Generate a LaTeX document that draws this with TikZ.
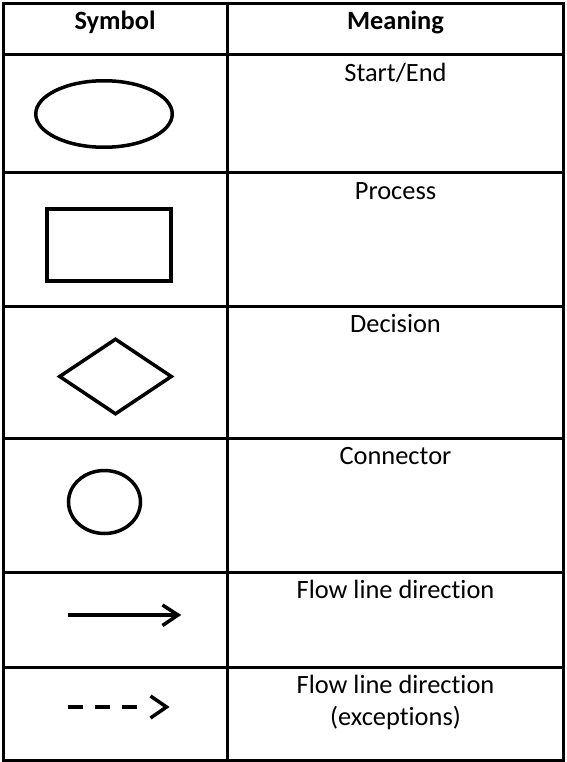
\documentclass[tikz,border=0pt]{standalone}
\usepackage{fontspec}
\setmainfont{Carlito}[Ligatures=NoCommon]
\usetikzlibrary{shapes.geometric}
\begin{document}
\begin{tikzpicture}[x=1pt,y=-1pt,
  grid/.style={line width=3pt},
  sym/.style={draw, line width=3.5pt, inner sep=0pt},
  flow/.style={line width=3.5pt, line join=miter},
  txt/.style={font=\fontsize{26.4}{32}\selectfont, anchor=base, inner sep=0pt, align=center},
  hdr/.style={txt, font=\fontsize{26.4}{32}\selectfont\bfseries},
]
\useasboundingbox (0,0) rectangle (566,762);
% table
\draw[grid] (3.5,4) rectangle (563.5,760);
\draw[grid] (227,4) -- (227,760);
\foreach \y in {55,173,306,438,572,667} \draw[grid] (3.5,\y) -- (563.5,\y);
% header
\node[hdr] (hsym) at (115,30) {Symbol};
\node[hdr] (hmean) at (395.5,30) {Meaning};
% meanings
\node[txt] (mstart) at (395.5,81.5) {Start/End};
\node[txt] (mproc) at (395.5,199) {Process};
\node[txt] (mdec) at (395.5,332) {Decision};
\node[txt] (mconn) at (395.5,464) {Connector};
\node[txt] (mflow) at (395.5,598) {Flow line direction};
\node[txt] (mexc) at (395.5,725) {Flow line direction\\(exceptions)};
% symbols
\node[sym, ellipse, minimum width=136.5pt, minimum height=66.5pt] (startend) at (104,114) {};
\node[sym, rectangle, minimum width=124pt, minimum height=72pt] (process) at (109,245) {};
\node[sym, diamond, minimum width=113pt, minimum height=76pt] (decision) at (115.5,376.5) {};
\node[sym, ellipse, minimum width=72pt, minimum height=63pt] (connector) at (104.5,502) {};
% solid flow line
\coordinate (fs) at (67.5,615);
\coordinate (fe) at (178,615);
\coordinate (fu) at (162.5,605);
\coordinate (fd) at (162.5,625.5);
\draw[flow] (fs) -- (fe);
\draw[flow] (fu) -- (fe) -- (fd);
% dashed flow line
\coordinate (ds) at (67.7,707);
\coordinate (de) at (137,707);
\coordinate (dt) at (166.5,707);
\coordinate (du) at (150.5,696);
\coordinate (dd) at (150.5,718);
\draw[flow, dash pattern=on 15pt off 12pt] (ds) -- (de);
\draw[flow] (du) -- (dt) -- (dd);
\end{tikzpicture}
\end{document}
